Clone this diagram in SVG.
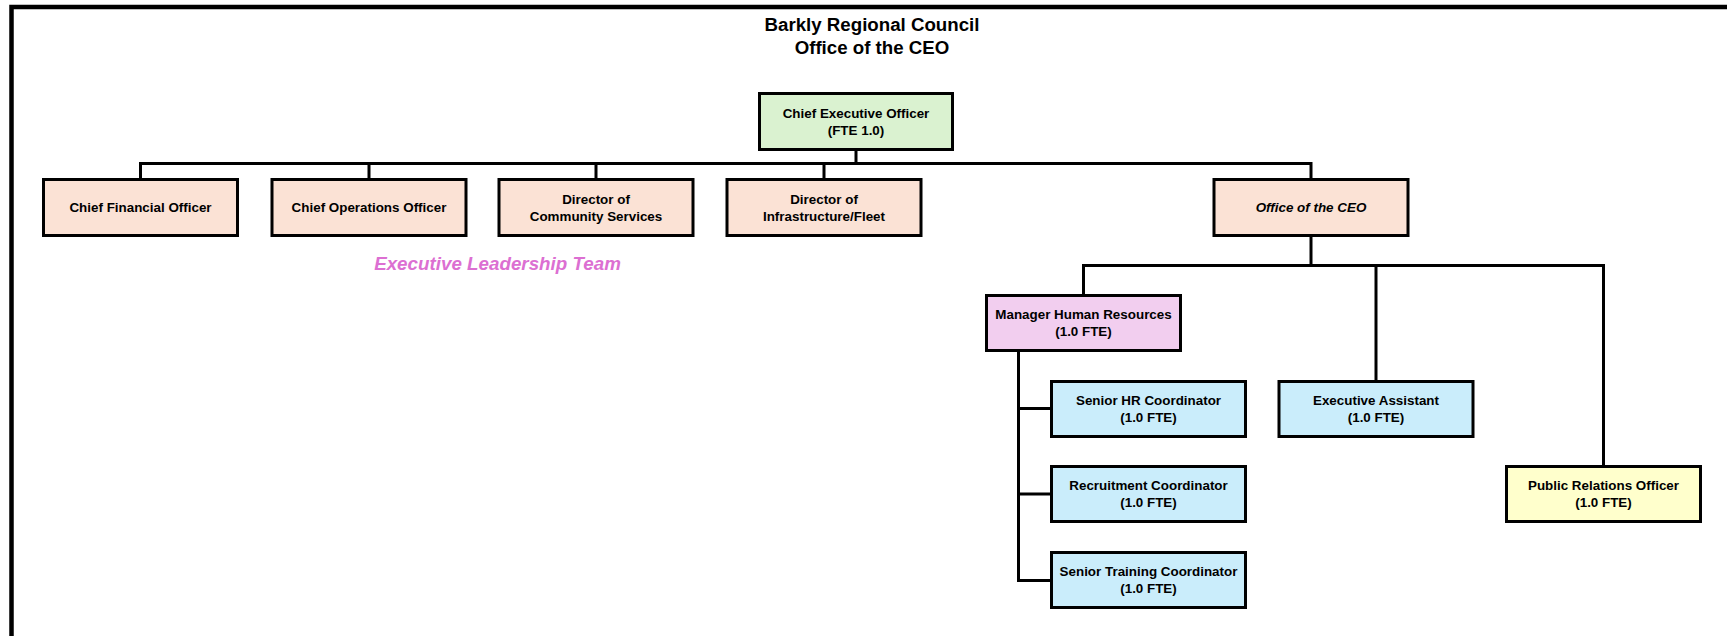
<svg xmlns="http://www.w3.org/2000/svg" width="1727" height="636" viewBox="0 0 1727 636">
<style>
.box{stroke:#000;stroke-width:3}
.peach{fill:#FBE2D5}
.green{fill:#DAF2D0}
.pink{fill:#F2CEEF}
.blue{fill:#CAEDFB}
.yellow{fill:#FFFFCC}
text{font-family:"Liberation Sans",Arial,sans-serif;font-weight:bold;fill:#000;text-anchor:middle}
.t{font-size:13.4px}
.title{font-size:18.7px}
.it{font-style:italic}
.elt{font-size:18.8px;font-style:italic;fill:#DC6FD2}
.conn{fill:none;stroke:#000;stroke-width:3}
</style>
<rect width="1727" height="636" fill="#fff"/>
<path d="M11.5,640 V7 H1732" fill="none" stroke="#000" stroke-width="4.5"/>
<g id="title">
<text class="title" x="872" y="31">Barkly Regional Council</text>
<text class="title" x="872" y="54">Office of the CEO</text>
</g>
<g id="connectors">
<path class="conn" d="M856,151 V163.5"/>
<path class="conn" d="M140.5,178 V163.5 H1311 V178"/>
<path class="conn" d="M369,163.5 V178 M596,163.5 V178 M824,163.5 V178"/>
<path class="conn" d="M1311,237 V265.5"/>
<path class="conn" d="M1083.5,294 V265.5 H1603.5 V465"/>
<path class="conn" d="M1376,265.5 V380"/>
<path class="conn" d="M1051,408.5 H1018.5 V580.5 H1051 M1018.5,494 H1051"/>
<path class="conn" d="M1018.5,352 V408.5"/>
</g>
<g id="ceo">
<rect class="box green" x="759.5" y="93.5" width="193" height="56"/>
<text class="t" x="856" y="117.5">Chief Executive Officer</text>
<text class="t" x="856" y="134.5">(FTE 1.0)</text>
</g>
<g id="cfo">
<rect class="box peach" x="43.5" y="179.5" width="194" height="56"/>
<text class="t" x="140.5" y="212">Chief Financial Officer</text>
</g>
<g id="coo">
<rect class="box peach" x="272" y="179.5" width="194" height="56"/>
<text class="t" x="369" y="212">Chief Operations Officer</text>
</g>
<g id="dcs">
<rect class="box peach" x="499" y="179.5" width="194" height="56"/>
<text class="t" x="596" y="203.5">Director of</text>
<text class="t" x="596" y="220.5">Community Services</text>
</g>
<g id="dif">
<rect class="box peach" x="727" y="179.5" width="194" height="56"/>
<text class="t" x="824" y="203.5">Director of</text>
<text class="t" x="824" y="220.5">Infrastructure/Fleet</text>
</g>
<g id="office">
<rect class="box peach" x="1214" y="179.5" width="194" height="56"/>
<text class="t it" x="1311" y="212">Office of the CEO</text>
</g>
<g id="elt-label">
<text class="elt" x="497.5" y="270">Executive Leadership Team</text>
</g>
<g id="mhr">
<rect class="box pink" x="986.5" y="295.5" width="194" height="55"/>
<text class="t" x="1083.5" y="318.5">Manager Human Resources</text>
<text class="t" x="1083.5" y="335.5">(1.0 FTE)</text>
</g>
<g id="shr">
<rect class="box blue" x="1051.5" y="381.5" width="194" height="55"/>
<text class="t" x="1148.5" y="404.5">Senior HR Coordinator</text>
<text class="t" x="1148.5" y="421.5">(1.0 FTE)</text>
</g>
<g id="rec">
<rect class="box blue" x="1051.5" y="466.5" width="194" height="55"/>
<text class="t" x="1148.5" y="489.5">Recruitment Coordinator</text>
<text class="t" x="1148.5" y="506.5">(1.0 FTE)</text>
</g>
<g id="stc">
<rect class="box blue" x="1051.5" y="552.5" width="194" height="55"/>
<text class="t" x="1148.5" y="575.5">Senior Training Coordinator</text>
<text class="t" x="1148.5" y="592.5">(1.0 FTE)</text>
</g>
<g id="ea">
<rect class="box blue" x="1279" y="381.5" width="194" height="55"/>
<text class="t" x="1376" y="404.5">Executive Assistant</text>
<text class="t" x="1376" y="421.5">(1.0 FTE)</text>
</g>
<g id="pro">
<rect class="box yellow" x="1506.5" y="466.5" width="194" height="55"/>
<text class="t" x="1603.5" y="489.5">Public Relations Officer</text>
<text class="t" x="1603.5" y="506.5">(1.0 FTE)</text>
</g>
</svg>
